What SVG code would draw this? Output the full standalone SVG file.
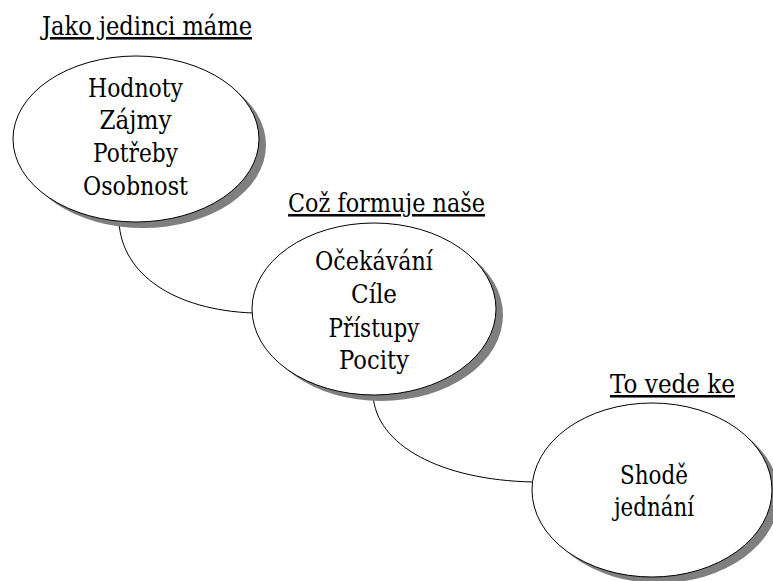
<svg xmlns="http://www.w3.org/2000/svg" width="773" height="581" viewBox="0 0 773 581">
  <style>
    .shadow { fill: #7f7f7f; }
    .bubble { fill: #ffffff; stroke: #000000; stroke-width: 1; }
    .link { fill: none; stroke: #000000; stroke-width: 1; }
    .label { font-family: "DejaVu Serif", "Liberation Serif", serif; font-size: 25.5px; fill: #000000; text-anchor: middle; }
    .heading { text-decoration: underline; }
  </style>

  <!-- curved connectors between the bubbles -->
  <g id="connectors">
    <path class="link" d="M119,222 C122,275 175,310 253,313"/>
    <path class="link" d="M373,395 C376,445 440,480 533,482"/>
  </g>

  <g id="node-jedinci">
    <text class="label heading" x="147" y="35" textLength="210" lengthAdjust="spacingAndGlyphs">Jako jedinci máme</text>
    <ellipse class="shadow" cx="143" cy="145" rx="123" ry="83"/>
    <ellipse class="bubble" cx="136" cy="139" rx="123" ry="83"/>
    <text class="label" x="135.5" y="97" textLength="95" lengthAdjust="spacingAndGlyphs">Hodnoty</text>
    <text class="label" x="135.5" y="129" textLength="72" lengthAdjust="spacingAndGlyphs">Zájmy</text>
    <text class="label" x="135.5" y="162" textLength="85" lengthAdjust="spacingAndGlyphs">Potřeby</text>
    <text class="label" x="135.5" y="195" textLength="105" lengthAdjust="spacingAndGlyphs">Osobnost</text>
  </g>

  <g id="node-formuje">
    <text class="label heading" x="386.5" y="212" textLength="197" lengthAdjust="spacingAndGlyphs">Což formuje naše</text>
    <ellipse class="shadow" cx="381" cy="315" rx="122" ry="86"/>
    <ellipse class="bubble" cx="374" cy="309" rx="122" ry="86"/>
    <text class="label" x="374" y="270" textLength="118" lengthAdjust="spacingAndGlyphs">Očekávání</text>
    <text class="label" x="374" y="303" textLength="46" lengthAdjust="spacingAndGlyphs">Cíle</text>
    <text class="label" x="374" y="337" textLength="91" lengthAdjust="spacingAndGlyphs">Přístupy</text>
    <text class="label" x="374" y="369" textLength="70" lengthAdjust="spacingAndGlyphs">Pocity</text>
  </g>

  <g id="node-vede">
    <text class="label heading" x="672.5" y="393" textLength="125" lengthAdjust="spacingAndGlyphs">To vede ke</text>
    <ellipse class="shadow" cx="659" cy="496" rx="120" ry="87"/>
    <ellipse class="bubble" cx="652" cy="490" rx="120" ry="87"/>
    <text class="label" x="654" y="484" textLength="68" lengthAdjust="spacingAndGlyphs">Shodě</text>
    <text class="label" x="654" y="516" textLength="80" lengthAdjust="spacingAndGlyphs">jednání</text>
  </g>
</svg>
